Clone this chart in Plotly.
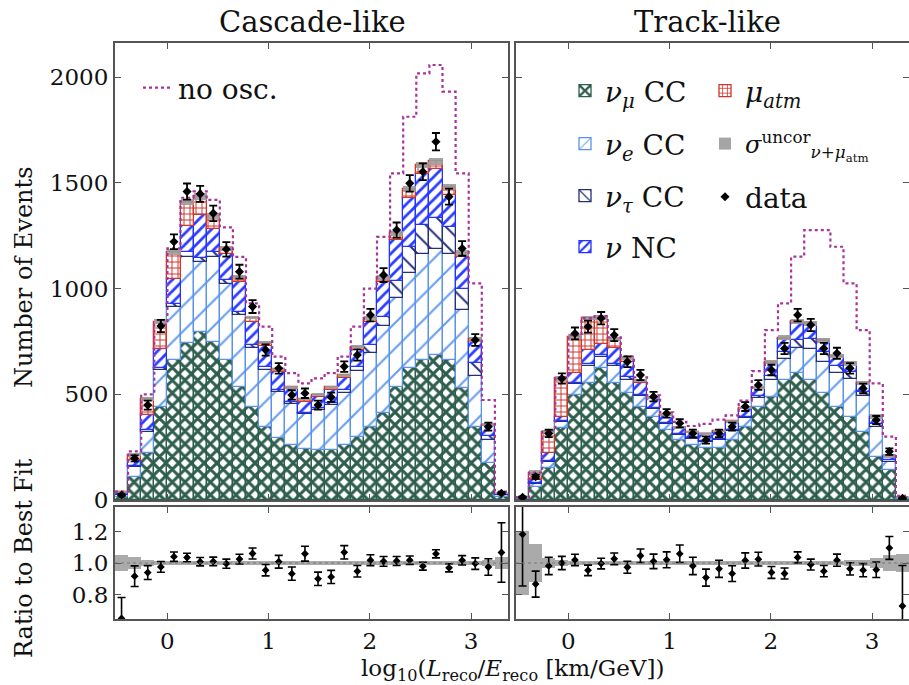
import numpy as np
import plotly.graph_objects as go

# ---------------- data ----------------
bin_lo, bin_hi, n_bins = -0.518, 3.365, 30
edges = np.linspace(bin_lo, bin_hi, n_bins + 1)
centers = (edges[:-1] + edges[1:]) / 2
bw = edges[1] - edges[0]

casc_numu = [15, 110, 221, 441, 662, 741, 796, 749, 662, 536, 441, 347, 292, 260, 240,
             236, 236, 260, 300, 347, 410, 536, 623, 662, 686, 662, 528, 347, 173, 16]
casc_nue = [8, 45, 102, 172, 250, 410, 330, 400, 360, 340, 280, 270, 220, 195, 165,
            190, 215, 245, 310, 350, 411, 420, 450, 500, 500, 500, 370, 240, 110, 7]
casc_nutau = [1, 5, 8, 10, 15, 20, 20, 25, 20, 15, 12, 10, 8, 8, 6,
              8, 10, 15, 20, 35, 47, 80, 125, 140, 150, 130, 100, 60, 20, 2]
casc_nc = [7, 30, 70, 90, 120, 125, 200, 110, 120, 140, 110, 100, 85, 60, 55,
           55, 60, 58, 80, 110, 165, 195, 230, 240, 230, 150, 150, 100, 45, 4]
casc_mu = [6, 25, 77, 131, 128, 114, 90, 59, 29, 23, 20, 17, 13, 10, 11,
           10, 12, 13, 14, 18, 20, 30, 44, 43, 36, 38, 22, 13, 8, 1]
casc_data = [24, 197, 449, 823, 1222, 1459, 1448, 1356, 1186, 1080, 915, 710, 623, 497, 505,
             449, 486, 631, 686, 875, 1064, 1277, 1498, 1553, 1695, 1435, 1190, 757, 347, 32]
casc_noosc = [40, 230, 500, 830, 1190, 1430, 1460, 1420, 1290, 1150, 930, 820, 678, 600, 552,
              575, 600, 678, 820, 1000, 1245, 1545, 1813, 2018, 2058, 1932, 1545, 1025, 473, 40]
casc_sig = [0.05, 0.035, 0.02, 0.015, 0.012, 0.01, 0.01, 0.01, 0.01, 0.01, 0.01, 0.01, 0.01, 0.012, 0.012,
            0.012, 0.012, 0.012, 0.01, 0.01, 0.01, 0.01, 0.01, 0.01, 0.01, 0.01, 0.012, 0.015, 0.02, 0.04]

trk_numu = [6, 63, 150, 339, 497, 552, 623, 552, 505, 441, 394, 331, 284, 260, 244,
            244, 284, 347, 441, 489, 568, 599, 568, 505, 441, 394, 323, 205, 142, 6]
trk_nue = [2, 15, 30, 30, 50, 80, 55, 80, 65, 50, 35, 30, 25, 27, 32,
           40, 42, 40, 42, 80, 100, 120, 145, 150, 160, 180, 170, 140, 40, 2]
trk_nutau = [0.5, 2, 3, 5, 8, 10, 8, 10, 10, 8, 6, 5, 4, 4, 4,
             5, 6, 8, 10, 20, 30, 40, 50, 45, 35, 30, 20, 15, 5, 1]
trk_nc = [1.5, 17, 40, 20, 45, 68, 52, 78, 72, 56, 42, 31, 27, 27, 30,
          35, 37, 37, 35, 60, 65, 80, 68, 52, 42, 40, 38, 33, 20, 1.5]
trk_mu = [1, 30, 98, 181, 173, 150, 125, 40, 20, 10, 7, 5, 3, 3, 3,
          3, 3, 3, 3, 5, 5, 6, 5, 4, 4, 3, 2, 2, 2, 0.5]
trk_data = [13, 110, 315, 575, 788, 820, 860, 780, 654, 591, 489, 410, 363, 315, 284,
            315, 347, 442, 544, 615, 717, 875, 828, 717, 694, 623, 528, 378, 229, 8]
trk_noosc = [12, 130, 330, 580, 780, 860, 870, 770, 680, 580, 495, 415, 370, 350, 360,
             380, 400, 470, 610, 804, 930, 1151, 1277, 1277, 1198, 1025, 804, 552, 300, 20]
trk_sig = [0.2, 0.12, 0.03, 0.02, 0.015, 0.012, 0.012, 0.012, 0.012, 0.012, 0.012, 0.012, 0.015, 0.015, 0.015,
           0.015, 0.015, 0.015, 0.015, 0.015, 0.015, 0.015, 0.015, 0.015, 0.015, 0.02, 0.02, 0.03, 0.05, 0.06]

panel_titles = ["Cascade-like", "Track-like"]
main_yticks = [0, 500, 1000, 1500, 2000]
ratio_yticks = [0.8, 1.0, 1.2]
x_ticks = [0, 1, 2, 3]

# ---------------- styles ----------------
FONT = "DejaVu Serif"
TXT = "#111111"
comp_styles = [
    ("<i>ν<sub>μ</sub></i> CC", "#2e5e4e", "#2e5e4e", "x", 9, 0.55, "legend"),
    ("<i>ν<sub>e</sub></i> CC", "#6a9ff0", "#5b93e8", "/", 18, 0.12, "legend2"),
    ("<i>ν<sub>τ</sub></i> CC", "#25307a", "#25307a", "\\", 13, 0.15, "legend3"),
    ("<i>ν</i> NC", "#2a3cff", "#2233ff", "/", 8, 0.35, "legend4"),
    ("<i>μ<sub>atm</sub></i>", "#d0352a", "#d0352a", "+", 6, 0.3, "legend5"),
]
GRAY = "#9c9c9c"
NOOSC = "#a8329b"

fig = go.Figure()


def add_panel(col, comps, data, noosc, sig, show_leg):
    xa, ya = ("x", "y") if col == 1 else ("x2", "y2")
    xr, yr = ("x3", "y3") if col == 1 else ("x4", "y4")
    base = np.zeros(n_bins)
    for vals, (name, fg, edge, shape, size, sol, leg) in zip(comps, comp_styles):
        vals = np.asarray(vals, dtype=float)
        fig.add_trace(go.Bar(
            x=centers, y=vals, base=base.copy(), width=bw, name=name,
            xaxis=xa, yaxis=ya, legend=leg, showlegend=show_leg,
            marker=dict(color="white", line=dict(color=edge, width=1.3),
                        pattern=dict(shape=shape, fgcolor=fg, bgcolor="white",
                                     size=size, solidity=sol, fillmode="replace")),
        ))
        base += vals
    total = base
    sig = np.asarray(sig)
    data = np.asarray(data, dtype=float)
    # uncorrelated uncertainty band
    fig.add_trace(go.Bar(
        x=centers, y=2 * sig * total, base=total * (1 - sig), width=bw,
        name="<i>σ</i><sup>uncor</sup><sub><i>ν</i>+<i>μ</i><sub>atm</sub></sub>",
        xaxis=xa, yaxis=ya, legend="legend6", showlegend=show_leg,
        marker=dict(color=GRAY, line=dict(width=0)), opacity=0.9,
    ))
    # no oscillation
    fig.add_trace(go.Scatter(
        x=edges, y=list(noosc) + [noosc[-1]], mode="lines", line_shape="hv",
        line=dict(color=NOOSC, width=2.2, dash="dot"), name="no osc.",
        xaxis=xa, yaxis=ya, legend="legend8", showlegend=(col == 1),
    ))
    # data
    fig.add_trace(go.Scatter(
        x=centers, y=data, mode="markers", name="data",
        marker=dict(color="black", size=7, symbol="diamond"),
        error_y=dict(type="data", array=np.sqrt(data), color="black", thickness=1.8, width=4),
        xaxis=xa, yaxis=ya, legend="legend7", showlegend=show_leg,
    ))
    # ratio panel
    fig.add_trace(go.Bar(
        x=centers, y=2 * sig, base=1 - sig, width=bw, xaxis=xr, yaxis=yr,
        marker=dict(color=GRAY, line=dict(width=0)), opacity=0.85, showlegend=False,
    ))
    fig.add_trace(go.Scatter(
        x=centers, y=data / total, mode="markers",
        marker=dict(color="black", size=6, symbol="diamond"),
        error_y=dict(type="data", array=np.sqrt(data) / total, color="black", thickness=1.6, width=4),
        xaxis=xr, yaxis=yr, showlegend=False,
    ))


add_panel(1, [casc_numu, casc_nue, casc_nutau, casc_nc, casc_mu], casc_data, casc_noosc, casc_sig, False)
add_panel(2, [trk_numu, trk_nue, trk_nutau, trk_nc, trk_mu], trk_data, trk_noosc, trk_sig, True)

# ---------------- layout ----------------
W, H = 909, 685
ML, MR, MT, MB = 115, 0, 43, 66
PW, PH = W - ML - MR, H - MT - MB


def px_x(px):
    return (px - ML) / PW


def px_y(py):
    return (H - MB - py) / PH


axc = dict(showline=True, linecolor="#555555", linewidth=2, mirror="ticks", ticks="inside",
           ticklen=6, tickcolor="#555555", tickwidth=1.2, showgrid=False, zeroline=False,
           tickfont=dict(family=FONT, size=23, color=TXT))

dl = [0, px_x(508)]
dr = [px_x(516), 1]
dmain = [px_y(500), 1]
drat = [0, px_y(507)]

fig.update_layout(
    width=W, height=H, margin=dict(l=ML, r=MR, t=MT, b=MB, autoexpand=False),
    plot_bgcolor="white", paper_bgcolor="white", barmode="overlay", bargap=0,
    font=dict(family=FONT, color=TXT),
    xaxis=dict(axc, domain=dl, anchor="y", range=[bin_lo, bin_hi], tickvals=x_ticks, showticklabels=False),
    xaxis2=dict(axc, domain=dr, anchor="y2", range=[bin_lo, bin_hi], tickvals=x_ticks, showticklabels=False),
    xaxis3=dict(axc, domain=dl, anchor="y3", range=[bin_lo, bin_hi], tickvals=x_ticks),
    xaxis4=dict(axc, domain=dr, anchor="y4", range=[bin_lo, bin_hi], tickvals=x_ticks),
    yaxis=dict(axc, domain=dmain, anchor="x", range=[0, 2162], tickvals=main_yticks),
    yaxis2=dict(axc, domain=dmain, anchor="x2", range=[0, 2162], tickvals=main_yticks, showticklabels=False),
    yaxis3=dict(axc, domain=drat, anchor="x3", range=[0.645, 1.355], tickvals=ratio_yticks,
                ticktext=["0.8", "1.0", "1.2"]),
    yaxis4=dict(axc, domain=drat, anchor="x4", range=[0.645, 1.355], tickvals=ratio_yticks, showticklabels=False),
)

# legends: one per entry to mimic two-column placement
leg_pos = {
    "legend": (565, 91, 28), "legend2": (565, 144, 28), "legend3": (565, 196, 28), "legend4": (565, 247, 28),
    "legend5": (705, 91, 28), "legend6": (705, 144, 24), "legend7": (705, 197, 28), "legend8": (138, 88, 28),
}
for key, (lx, ly, fs) in leg_pos.items():
    fig.update_layout({key: dict(x=px_x(lx), y=px_y(ly), xanchor="left", yanchor="middle",
                                 bgcolor="rgba(0,0,0,0)", font=dict(family=FONT, size=fs, color=TXT),
                                 borderwidth=0)})

# dotted reference line at 1 in ratio panels
for xr, yr in (("x3", "y3"), ("x4", "y4")):
    fig.add_shape(type="line", xref=xr + " domain", yref=yr, x0=0, x1=1, y0=1, y1=1,
                  line=dict(color="#777777", width=1.2, dash="dot"))

annots = [
    dict(text=panel_titles[0], x=px_x(312), y=px_y(22), font=dict(size=29)),
    dict(text=panel_titles[1], x=px_x(707), y=px_y(22), font=dict(size=29)),
    dict(text="Number of Events", x=px_x(24), y=px_y(277), textangle=-90, font=dict(size=24)),
    dict(text="Ratio to Best Fit", x=px_x(24), y=px_y(558), textangle=-90, font=dict(size=24)),
    dict(text="log<sub>10</sub>(<i>L</i><sub>reco</sub>/<i>E</i><sub>reco</sub> [km/GeV])",
         x=px_x(512), y=px_y(670), font=dict(size=23)),
]
for a in annots:
    fig.add_annotation(xref="paper", yref="paper", showarrow=False, xanchor="center", yanchor="middle",
                       **{k: v for k, v in a.items() if k != "font"},
                       font=dict(family=FONT, color=TXT, **a["font"]))

# remove the default page margin so the figure sits at the window origin
fig.write_html("out.html", config={"displayModeBar": False},
               post_script="document.body.style.margin='0';document.body.style.overflow='hidden';")
